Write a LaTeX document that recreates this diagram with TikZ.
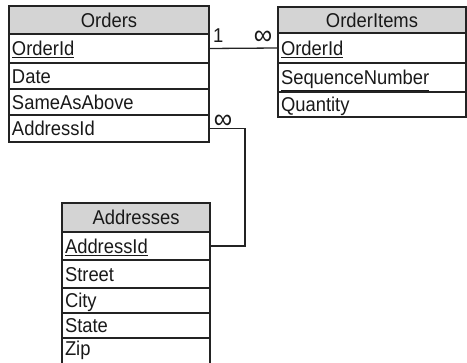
\documentclass[tikz,border=0pt]{standalone}
\usepackage{fontspec}
\setmainfont[FakeStretch=0.92]{Liberation Sans}
\usetikzlibrary{positioning}
\definecolor{headgray}{RGB}{212,212,212}
\definecolor{rulegray}{RGB}{35,35,35}

\tikzset{
    tblcell/.style={draw=rulegray, line width=1.3pt, anchor=north west,
        inner xsep=3pt, inner ysep=0pt, outer sep=0pt, text=black!90,
        text height=15pt, text depth=0pt,
        font=\fontsize{20}{22}\selectfont},
    tblhead/.style={tblcell, fill=headgray, align=center},
    tblrow/.style={tblcell, align=left},
    cardlabel/.style={inner sep=0pt, text=black!90, font=\fontsize{20}{22}\selectfont},
    manylabel/.style={inner sep=0pt, text=black!90, font=\fontsize{28}{28}\selectfont},
    relline/.style={draw=rulegray, line width=1.3pt}
}

\begin{document}
\begin{tikzpicture}[x=1pt,y=-1pt]
    \clip (0,0) rectangle (467,363);

    % Orders table
    \node[tblhead, text width=194pt, minimum height=28pt] (ordHead) at (9,6) {Orders};
    \node[tblrow, text width=194pt, minimum height=29pt] (ordId) at (ordHead.south west) {\underline{OrderId}};
    \node[tblrow, text width=194pt, minimum height=26pt] (ordDate) at (ordId.south west) {Date};
    \node[tblrow, text width=194pt, minimum height=26pt] (ordSame) at (ordDate.south west) {SameAsAbove};
    \node[tblrow, text width=194pt, minimum height=27pt] (ordAddr) at (ordSame.south west) {AddressId};

    % OrderItems table
    \node[tblhead, text width=182pt, minimum height=26pt] (itmHead) at (278,7) {OrderItems};
    \node[tblrow, text width=182pt, minimum height=30pt] (itmId) at (itmHead.south west) {\underline{OrderId}};
    \node[tblrow, text width=182pt, minimum height=29pt] (itmSeq) at (itmId.south west) {\underline{SequenceNumber}};
    \node[tblrow, text width=182pt, minimum height=25pt] (itmQty) at (itmSeq.south west) {Quantity};

    % Addresses table (runs off the bottom edge)
    \node[tblhead, text width=142pt, minimum height=29pt] (adrHead) at (62,203) {Addresses};
    \node[tblrow, text width=142pt, minimum height=28pt] (adrId) at (adrHead.south west) {\underline{AddressId}};
    \node[tblrow, text width=142pt, minimum height=28pt] (adrStreet) at (adrId.south west) {Street};
    \node[tblrow, text width=142pt, minimum height=25pt] (adrCity) at (adrStreet.south west) {City};
    \node[tblrow, text width=142pt, minimum height=25pt] (adrState) at (adrCity.south west) {State};
    \node[tblrow, draw=none, text width=142pt, minimum height=23pt, text depth=2pt] (adrZip) at (adrState.south west) {Zip};
    \draw[relline] (adrZip.north west) -- ++(0,30);
    \draw[relline] (adrZip.north east) -- ++(0,30);

    % Relations
    \draw[relline] (ordId.east) -- (itmId.west);
    \draw[relline] (ordAddr.east) -- ++(36,0) |- (adrId.east);

    \node[cardlabel, anchor=base west] (oneOrd) at ([xshift=4pt,yshift=6pt]ordId.east) {1};
    \node[manylabel] (manyItm) at ([xshift=-15pt,yshift=10pt]itmId.west) {∞};
    \node[manylabel] (manyAdr) at ([xshift=14pt,yshift=7pt]ordAddr.east) {∞};
\end{tikzpicture}
\end{document}
